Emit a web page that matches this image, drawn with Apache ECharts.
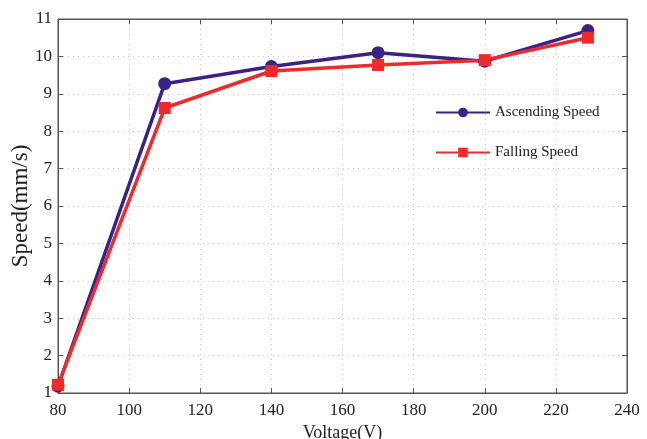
<!DOCTYPE html>
<html><head><meta charset="utf-8">
<script src="https://cdn.jsdelivr.net/npm/echarts@6/dist/echarts.min.js"></script>
<style>html,body{margin:0;padding:0;background:#fff}#c{width:647px;height:439px}</style>
</head><body><div id="c"></div>
<script>
const voltage = [80, 110, 140, 170, 200, 229];
const ascendingSpeed = [1.18, 9.27, 9.73, 10.1, 9.87, 10.69];
const fallingSpeed = [1.22, 8.62, 9.61, 9.77, 9.9, 10.5];
const xTicks = [80, 100, 120, 140, 160, 180, 200, 220, 240];
const yTicks = [1, 2, 3, 4, 5, 6, 7, 8, 9, 10, 11];

const font = '"Liberation Serif","Times New Roman",serif';
const chart = echarts.init(document.getElementById('c'), null, {renderer: 'canvas'});
const splitLine = {show: true, lineStyle: {color: '#c8c8c8', type: [1, 4], width: 1}};
chart.setOption({
  animation: false,
  grid: {left: 58, right: 20, top: 19, bottom: 46, show: true, borderColor: '#555', borderWidth: 1,
         containLabel: false, outerBoundsMode: 'none'},
  legend: {
    orient: 'vertical', left: 430, top: 100, itemGap: 25, itemWidth: 54, itemHeight: 12,
    textStyle: {fontFamily: font, fontSize: 15, color: '#222'},
    data: ['Ascending Speed', 'Falling Speed']
  },
  xAxis: [{
    type: 'value', min: xTicks[0], max: xTicks[xTicks.length - 1], interval: 20,
    name: 'Voltage(V)', nameLocation: 'middle', nameGap: 31,
    nameTextStyle: {fontFamily: font, fontSize: 18, color: '#222'},
    axisLine: {show: true, lineStyle: {color: '#555'}},
    axisTick: {show: true, inside: true, length: 5, lineStyle: {color: '#555'}},
    axisLabel: {fontFamily: font, fontSize: 17, color: '#222', margin: 9},
    splitLine: splitLine
  }, {
    type: 'value', position: 'top', min: xTicks[0], max: xTicks[xTicks.length - 1], interval: 20,
    axisLine: {show: true, lineStyle: {color: '#555'}},
    axisTick: {show: true, inside: true, length: 5, lineStyle: {color: '#555'}},
    axisLabel: {show: false}, splitLine: {show: false}
  }],
  yAxis: [{
    type: 'value', min: yTicks[0], max: yTicks[yTicks.length - 1], interval: 1,
    name: 'Speed(mm/s)', nameLocation: 'middle', nameGap: 26, nameMoveOverlap: false,
    nameTextStyle: {fontFamily: font, fontSize: 23, color: '#222'},
    axisLine: {show: true, lineStyle: {color: '#555'}},
    axisTick: {show: true, inside: true, length: 5, lineStyle: {color: '#555'}},
    axisLabel: {fontFamily: font, fontSize: 17, color: '#222', margin: 6},
    splitLine: splitLine
  }, {
    type: 'value', position: 'right', min: yTicks[0], max: yTicks[yTicks.length - 1], interval: 1,
    axisLine: {show: true, lineStyle: {color: '#555'}},
    axisTick: {show: true, inside: true, length: 5, lineStyle: {color: '#555'}},
    axisLabel: {show: false}, splitLine: {show: false}
  }],
  series: [{
    name: 'Ascending Speed', type: 'line',
    data: voltage.map((v, i) => [v, ascendingSpeed[i]]),
    symbol: 'circle', symbolSize: 13,
    lineStyle: {color: '#3b2186', width: 3.5},
    itemStyle: {color: '#3b2186'}
  }, {
    name: 'Falling Speed', type: 'line',
    data: voltage.map((v, i) => [v, fallingSpeed[i]]),
    symbol: 'rect', symbolSize: 12,
    lineStyle: {color: '#ee2a2a', width: 3.5},
    itemStyle: {color: '#ee2a2a'}
  }]
});
</script></body></html>
